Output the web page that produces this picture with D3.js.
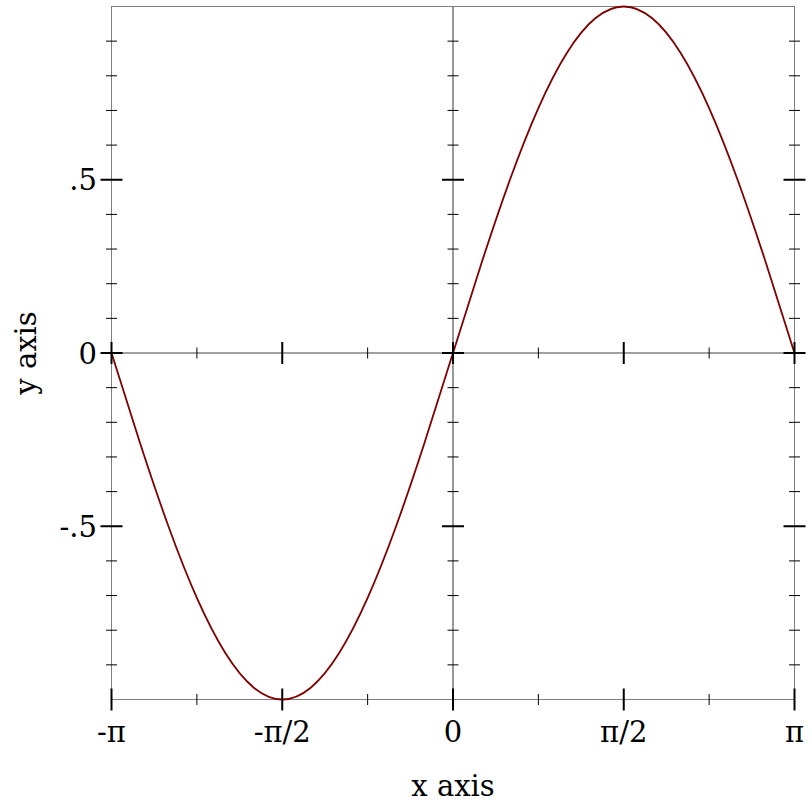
<!DOCTYPE html>
<html>
<head>
<meta charset="utf-8">
<script src="https://cdn.jsdelivr.net/npm/d3@7"></script>
<style>
  html, body { margin: 0; padding: 0; background: #fff; }
  svg { display: block; }
  text { font-family: "DejaVu Serif", serif; fill: #000; }
</style>
</head>
<body>
<script>
// ---- data ----
const curveX = [-3.1416, -2.8798, -2.6180, -2.3562, -2.0944, -1.8326, -1.5708, -1.3090, -1.0472, -0.7854, -0.5236, -0.2618, 0,
                 0.2618, 0.5236, 0.7854, 1.0472, 1.3090, 1.5708, 1.8326, 2.0944, 2.3562, 2.6180, 2.8798, 3.1416];
const curveY = [0, -0.259, -0.5, -0.707, -0.866, -0.966, -1, -0.966, -0.866, -0.707, -0.5, -0.259, 0,
                0.259, 0.5, 0.707, 0.866, 0.966, 1, 0.966, 0.866, 0.707, 0.5, 0.259, 0];

const xMajorTicks = [-3.1416, -1.5708, 0, 1.5708, 3.1416];
const xMajorLabels = ["-π", "-π/2", "0", "π/2", "π"];
const xMinorTicks = [-2.3562, -0.7854, 0.7854, 2.3562];

const yMajorTicks = [-0.5, 0, 0.5];
const yMajorLabels = ["-.5", "0", ".5"];
const yMinorTicks = [-0.9, -0.8, -0.7, -0.6, -0.4, -0.3, -0.2, -0.1, 0.1, 0.2, 0.3, 0.4, 0.6, 0.7, 0.8, 0.9];

const xDomain = [-3.1416, 3.1416];
const yDomain = [-1, 1];
const xTitle = "x axis";
const yTitle = "y axis";

(function () {
// ---- layout ----
const W = 812, H = 812;
const pLeft = 111.5, pRight = 794.5, pTop = 6.5, pBottom = 699.5;

const svg = d3.select("body").append("svg").attr("width", W).attr("height", H);

const x = d3.scaleLinear().domain(xDomain).range([pLeft, pRight]);
const y = d3.scaleLinear().domain(yDomain).range([pBottom, pTop]);

const gray = "#808080";

// frame
svg.append("rect")
  .attr("x", pLeft).attr("y", pTop)
  .attr("width", pRight - pLeft).attr("height", pBottom - pTop)
  .attr("fill", "none").attr("stroke", gray).attr("stroke-width", 1);

// axis lines through zero
svg.append("line")
  .attr("x1", pLeft).attr("x2", pRight)
  .attr("y1", y(0)).attr("y2", y(0))
  .attr("stroke", gray).attr("stroke-width", 1.6);
svg.append("line")
  .attr("x1", x(0)).attr("x2", x(0))
  .attr("y1", pTop).attr("y2", pBottom)
  .attr("stroke", gray).attr("stroke-width", 1.6);

// curve
const pts = curveX.map((d, i) => [d, curveY[i]]);
const line = d3.line().x(d => x(d[0])).y(d => y(d[1])).curve(d3.curveNatural);
svg.append("path")
  .datum(pts)
  .attr("d", line)
  .attr("fill", "none")
  .attr("stroke", "#7f0000")
  .attr("stroke-width", 1.8);

// ticks
const majorHalf = 11, minorHalf = 5.5;
const tickG = svg.append("g").attr("stroke", "#000");

// x ticks on bottom and on y=0 line
[pBottom, y(0)].forEach(yy => {
  tickG.selectAll(null).data(xMajorTicks).enter().append("line")
    .attr("x1", d => x(d)).attr("x2", d => x(d))
    .attr("y1", yy - majorHalf).attr("y2", yy + majorHalf)
    .attr("stroke-width", 2);
  tickG.selectAll(null).data(xMinorTicks).enter().append("line")
    .attr("x1", d => x(d)).attr("x2", d => x(d))
    .attr("y1", yy - minorHalf).attr("y2", yy + minorHalf)
    .attr("stroke-width", 1);
});

// y ticks on left, x=0 line, and right
[pLeft, x(0), pRight].forEach(xx => {
  tickG.selectAll(null).data(yMajorTicks).enter().append("line")
    .attr("y1", d => y(d)).attr("y2", d => y(d))
    .attr("x1", xx - majorHalf).attr("x2", xx + majorHalf)
    .attr("stroke-width", 2);
  tickG.selectAll(null).data(yMinorTicks).enter().append("line")
    .attr("y1", d => y(d)).attr("y2", d => y(d))
    .attr("x1", xx - minorHalf).attr("x2", xx + minorHalf)
    .attr("stroke-width", 1);
});

// tick labels
const fs = 29;
svg.selectAll(null).data(xMajorTicks).enter().append("text")
  .attr("x", d => x(d)).attr("y", 742)
  .attr("text-anchor", "middle")
  .attr("font-size", fs)
  .text((d, i) => xMajorLabels[i]);

svg.selectAll(null).data(yMajorTicks).enter().append("text")
  .attr("x", 97).attr("y", d => y(d) + 10.5)
  .attr("text-anchor", "end")
  .attr("font-size", fs)
  .text((d, i) => yMajorLabels[i]);

// axis titles
svg.append("text")
  .attr("x", x(0)).attr("y", 796)
  .attr("text-anchor", "middle")
  .attr("font-size", fs)
  .text(xTitle);

svg.append("text")
  .attr("transform", `translate(36, ${y(0)}) rotate(-90)`)
  .attr("text-anchor", "middle")
  .attr("font-size", fs)
  .text(yTitle);
})();
</script>
</body>
</html>
